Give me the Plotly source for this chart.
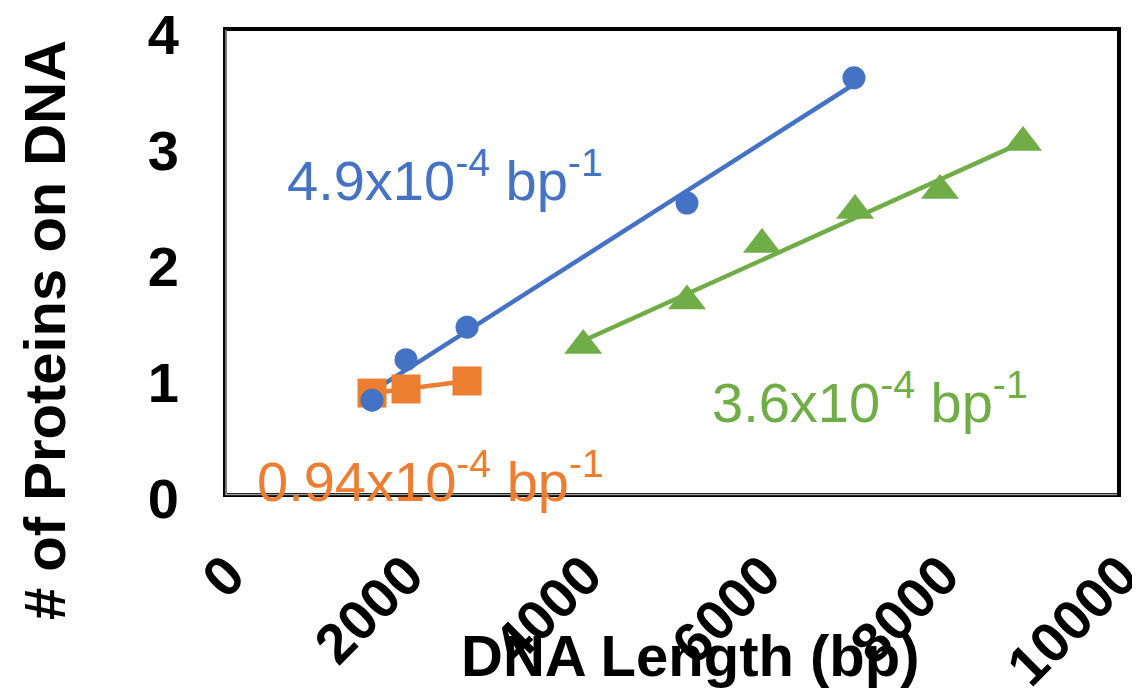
import numpy as np
import plotly.graph_objects as go

# ---- data ----
blue_x = [1635, 2016, 2699, 5162, 7032]
blue_y = [0.86, 1.21, 1.49, 2.56, 3.64]
orange_x = [1635, 2016, 2699]
orange_y = [0.922, 0.957, 1.026]
green_x = [4000, 5162, 6002, 7044, 7995, 8925]
green_y = [1.332, 1.716, 2.203, 2.496, 2.668, 3.082]

x_ticks = [0, 2000, 4000, 6000, 8000, 10000]
y_ticks = [0, 1, 2, 3, 4]

blue_label = "4.9x10<sup>-4</sup> bp<sup>-1</sup>"
green_label = "3.6x10<sup>-4</sup> bp<sup>-1</sup>"
orange_label = "0.94x10<sup>-4</sup> bp<sup>-1</sup>"

BLUE = "#4472C4"
ORANGE = "#ED7D31"
GREEN = "#70AD47"

OFF = 8  # default page body margin
W, H = 1140, 688
# plot-area edges in page pixels
PL, PR, PT, PB = 226, 1119, 36, 500
L, R, T, B = PL - OFF, PR - OFF, PT - OFF, PB - OFF


def px(xp):
    return (xp - OFF - L) / (R - L)


def py(yp):
    return (B - (yp - OFF)) / (B - T)


def trend(xs, ys):
    k, b = np.polyfit(xs, ys, 1)
    xx = np.array([min(xs), max(xs)])
    return xx, k * xx + b


fig = go.Figure()

for xs, ys, col in [(blue_x, blue_y, BLUE), (green_x, green_y, GREEN), (orange_x, orange_y, ORANGE)]:
    tx, ty = trend(xs, ys)
    fig.add_trace(go.Scatter(x=tx, y=ty, mode="lines", line=dict(color=col, width=4.5),
                             showlegend=False, hoverinfo="skip", cliponaxis=False))

fig.add_trace(go.Scatter(x=orange_x, y=orange_y, mode="markers", cliponaxis=False,
                         marker=dict(symbol="square", size=29, color=ORANGE), showlegend=False))
fig.add_trace(go.Scatter(x=blue_x, y=blue_y, mode="markers", cliponaxis=False,
                         marker=dict(symbol="circle", size=23, color=BLUE), showlegend=False))
fig.add_trace(go.Scatter(x=green_x, y=green_y, mode="markers", cliponaxis=False,
                         marker=dict(symbol="triangle-up", size=33, color=GREEN), showlegend=False))

# plot-area border (black with a grey inner line on left/bottom)
fig.add_shape(type="rect", xref="paper", yref="paper",
              x0=px(225), x1=px(1119), y0=py(495), y1=py(29),
              line=dict(color="black", width=4), layer="above")
fig.add_shape(type="line", xref="paper", yref="paper",
              x0=px(226), x1=px(226), y0=py(495), y1=py(30),
              line=dict(color="#A0A0A0", width=1.5), layer="above")
fig.add_shape(type="line", xref="paper", yref="paper",
              x0=px(225), x1=px(1117), y0=py(494.5), y1=py(494.5),
              line=dict(color="#A0A0A0", width=1.5), layer="above")

ann_font = "Liberation Sans, Arial, sans-serif"
fig.add_annotation(x=px(285), y=py(176), xref="paper", yref="paper", text=blue_label,
                   showarrow=False, xanchor="left", yanchor="middle",
                   font=dict(family=ann_font, size=56, color=BLUE))
fig.add_annotation(x=px(710), y=py(398), xref="paper", yref="paper", text=green_label,
                   showarrow=False, xanchor="left", yanchor="middle",
                   font=dict(family=ann_font, size=56, color=GREEN))
fig.add_annotation(x=px(255), y=py(477), xref="paper", yref="paper", text=orange_label,
                   showarrow=False, xanchor="left", yanchor="middle",
                   font=dict(family=ann_font, size=56, color=ORANGE))

# axis titles
fig.add_annotation(x=px(44), y=py(330), xref="paper", yref="paper",
                   text="<b># of Proteins on DNA</b>", textangle=-90, showarrow=False,
                   xanchor="center", yanchor="middle",
                   font=dict(family=ann_font, size=58, color="black"))
fig.add_annotation(x=px(690), y=py(655), xref="paper", yref="paper",
                   text="<b>DNA Length (bp)</b>", showarrow=False,
                   xanchor="center", yanchor="middle",
                   font=dict(family=ann_font, size=58, color="black"))

fig.update_layout(
    width=W, height=H,
    margin=dict(l=L, r=W - R, t=T, b=H - B, autoexpand=False),
    paper_bgcolor="white", plot_bgcolor="white",
    xaxis=dict(range=[0, 10000], tickvals=x_ticks, ticktext=[str(v) for v in x_ticks],
               tickangle=-45, showgrid=False, zeroline=False, showline=False, ticks="",
               automargin=False, ticklabeloverflow="allow",
               tickfont=dict(family=ann_font, size=56, color="black", weight="bold"),
               ticklabelstandoff=30, ticklabelshift=2),
    yaxis=dict(range=[0, 4], tickvals=y_ticks, ticktext=[str(v) for v in y_ticks],
               showgrid=False, zeroline=False, showline=False, ticks="",
               automargin=False, ticklabeloverflow="allow",
               tickfont=dict(family=ann_font, size=56, color="black", weight="bold"),
               ticklabelstandoff=46, ticklabelshift=-2),
)

fig.write_html("out.html")
